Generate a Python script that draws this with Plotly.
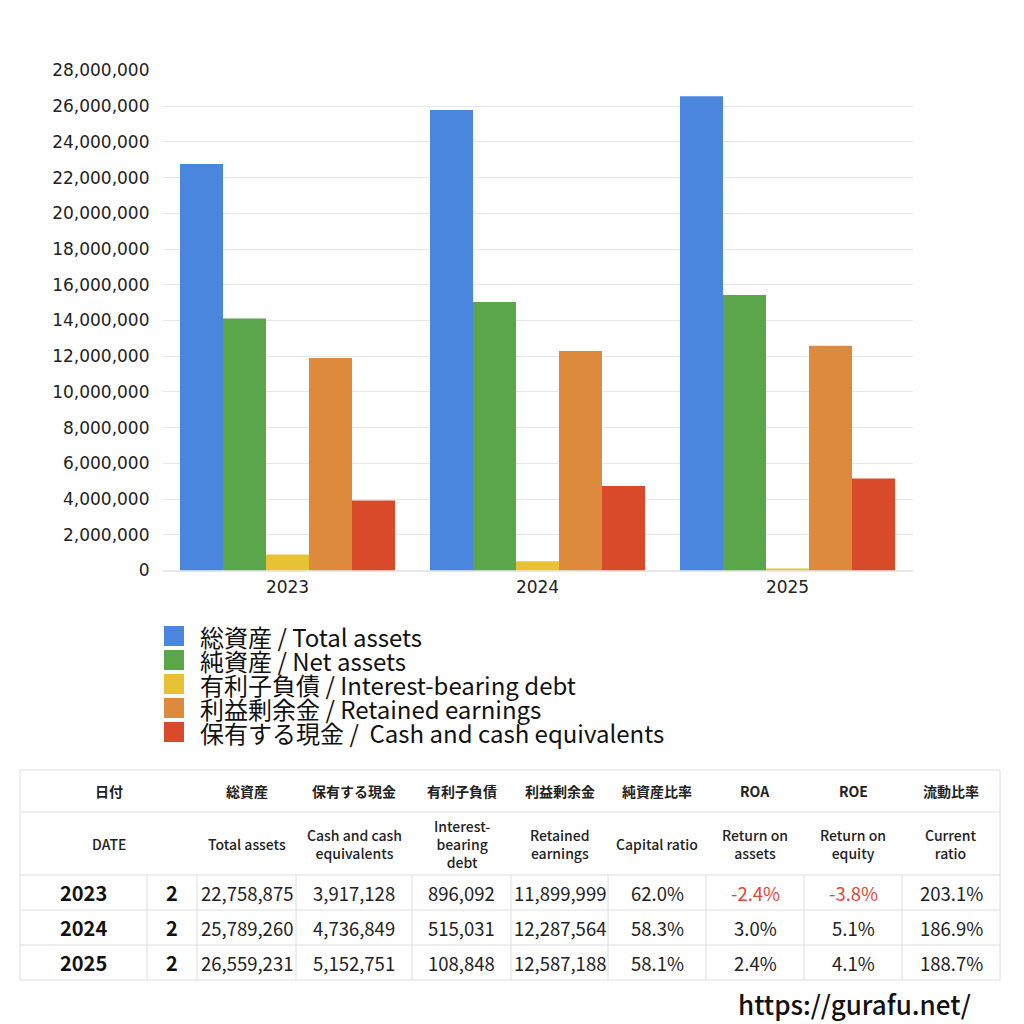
import plotly.graph_objects as go

years = ["2023", "2024", "2025"]
months = [2, 2, 2]
total_assets = [22758875, 25789260, 26559231]
net_assets = [14110000, 15035000, 15430000]
debt = [896092, 515031, 108848]
retained = [11899999, 12287564, 12587188]
cash = [3917128, 4736849, 5152751]
capital_ratio = [62.0, 58.3, 58.1]
roa = [-2.4, 3.0, 2.4]
roe = [-3.8, 5.1, 4.1]
current_ratio = [203.1, 186.9, 188.7]

series_names = ["総資産 / Total assets", "純資産 / Net assets", "有利子負債 / Interest-bearing debt",
                "利益剰余金 / Retained earnings", "保有する現金 /  Cash and cash equivalents"]
series_values = [total_assets, net_assets, debt, retained, cash]
series_colors = ["#4a86dd", "#5ba54b", "#e6c234", "#de8a3c", "#d84a2a"]

head_jp = ["日付", "総資産", "保有する現金", "有利子負債", "利益剰余金", "純資産比率", "ROA", "ROE", "流動比率"]
head_en = ["DATE", "Total assets", "Cash and cash<br>equivalents", "Interest-<br>bearing<br>debt",
           "Retained<br>earnings", "Capital ratio", "Return on<br>assets", "Return on<br>equity", "Current<br>ratio"]

FONT = "Noto Sans CJK JP"
NUMFONT = "DejaVu Sans"

# page has an 8px body margin; convert reference pixels to paper coords
def xp(x):
    return (x - 8) / 1024

def yp(y):
    return 1 - (y - 8) / 1024

fig = go.Figure()
for name, vals, col in zip(series_names, series_values, series_colors):
    fig.add_trace(go.Bar(x=years, y=vals, name=name, showlegend=False,
                         marker=dict(color=col, line=dict(width=0))))

annotations = []
shapes = []

# legend
for i, (name, col) in enumerate(zip(series_names, series_colors)):
    cy = 636 + 24 * i
    shapes.append(dict(type="rect", xref="paper", yref="paper", x0=xp(164), x1=xp(184),
                       y0=yp(cy + 10), y1=yp(cy - 10), fillcolor=col, line=dict(width=0)))
    annotations.append(dict(text=name, xref="paper", yref="paper", x=xp(198), y=yp(cy),
                            xanchor="left", yanchor="middle", showarrow=False,
                            font=dict(family=FONT, size=24, color="#111")))

# table
col_edges = [20, 147, 197, 296, 412, 511, 608, 706, 804, 902, 1000]
row_edges = [770, 812, 875, 910, 945, 980]
line_col = "#dedede"

def hline(y):
    shapes.append(dict(type="line", xref="paper", yref="paper", x0=xp(20), x1=xp(1000),
                       y0=yp(y), y1=yp(y), line=dict(color=line_col, width=1)))

def vline(x, y0, y1):
    shapes.append(dict(type="line", xref="paper", yref="paper", x0=xp(x), x1=xp(x),
                       y0=yp(y0), y1=yp(y1), line=dict(color=line_col, width=1)))

for y in row_edges:
    hline(y)
vline(20, 770, 980)
vline(1000, 770, 980)
for x in col_edges[1:-1]:
    vline(x, 875, 980)

def cell(text, x0, x1, y0, y1, size, color="#222", family=FONT, weight=None):
    f = dict(family=family, size=size, color=color)
    if weight:
        f["weight"] = weight
    annotations.append(dict(text=text, xref="paper", yref="paper", x=xp((x0 + x1) / 2),
                            y=yp((y0 + y1) / 2), xanchor="center", yanchor="middle",
                            showarrow=False, font=f))

head_edges = [col_edges[0]] + col_edges[2:]
for j in range(len(head_jp)):
    cell("<b>%s</b>" % head_jp[j], head_edges[j], head_edges[j + 1], 770, 812, 14)
    cell(head_en[j], head_edges[j], head_edges[j + 1], 812, 875, 14, weight=500)

def pct(v):
    return "%.1f%%" % v

for i in range(len(years)):
    y0, y1 = row_edges[2 + i], row_edges[3 + i]
    row = [f"{total_assets[i]:,}", f"{cash[i]:,}", f"{debt[i]:,}", f"{retained[i]:,}",
           pct(capital_ratio[i]), pct(roa[i]), pct(roe[i]), pct(current_ratio[i])]
    cols = ["#222"] * 8
    if roa[i] < 0:
        cols[5] = "#e0473a"
    if roe[i] < 0:
        cols[6] = "#e0473a"
    cell("<b>%s</b>" % years[i], col_edges[0], col_edges[1], y0, y1, 20, "#111")
    cell("<b>%d</b>" % months[i], col_edges[1], col_edges[2], y0, y1, 20, "#111")
    for j, t in enumerate(row):
        cell(t, col_edges[2 + j], col_edges[3 + j], y0, y1, 18.5, cols[j])

annotations.append(dict(text="https://gurafu.net/", xref="paper", yref="paper",
                        x=xp(973), y=yp(1003), xanchor="right", yanchor="middle",
                        showarrow=False, font=dict(family=FONT, size=26, color="#111", weight=500)))

fig.update_layout(
    width=1024, height=1024,
    margin=dict(l=0, r=0, t=0, b=0),
    paper_bgcolor="white", plot_bgcolor="white",
    font=dict(family=FONT, color="#222"),
    barmode="group", bargap=0.14, bargroupgap=0,
    showlegend=False,
    xaxis=dict(domain=[xp(162.5), xp(912.5)], tickfont=dict(family=NUMFONT, size=17, color="#222"),
               showline=False, ticks="", automargin=False, ticklabelstandoff=4),
    yaxis=dict(domain=[yp(570.5), yp(70.5)], range=[0, 28000000], dtick=2000000, tickformat=",",
               gridcolor="#e8e8e8", zeroline=True, zerolinecolor="#e8e8e8", automargin=False,
               tickfont=dict(family=NUMFONT, size=17, color="#222"), ticks="", ticklabelstandoff=12),
    shapes=shapes,
    annotations=annotations,
)

fig.write_html("out.html")
